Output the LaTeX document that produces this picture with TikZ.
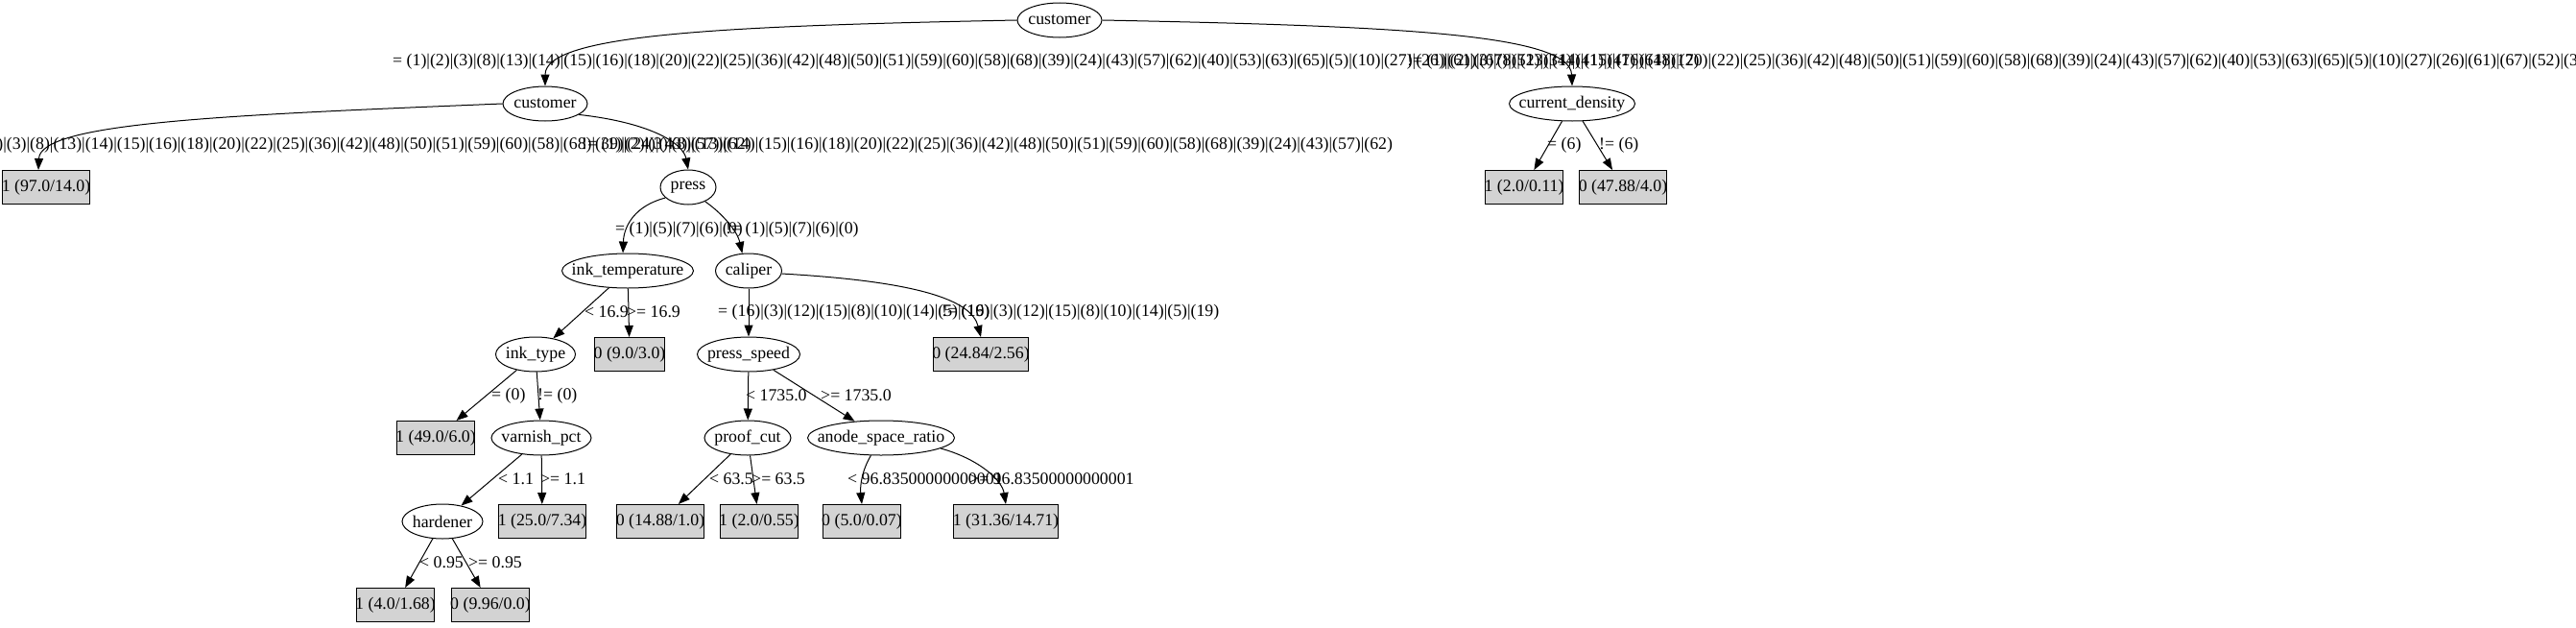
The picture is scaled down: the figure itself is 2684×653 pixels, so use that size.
\documentclass[tikz,border=0pt]{standalone}
\usepackage{fontspec}
\setmainfont{Liberation Serif}
\usepackage{xcolor}
\usepackage{tikz}
\usetikzlibrary{shapes.geometric,arrows.meta}

\definecolor{leafgray}{HTML}{D3D3D3}

\newcommand{\custsetA}{(1)|(2)|(3)|(8)|(13)|(14)|(15)|(16)|(18)|(20)|(22)|(25)|(36)|(42)|(48)|(50)|(51)|(59)|(60)|(58)|(68)|(39)|(24)|(43)|(57)|(62)|(40)|(53)|(63)|(65)|(5)|(10)|(27)|(26)|(61)|(67)|(52)|(34)|(41)|(47)|(64)|(17)}
\newcommand{\custsetB}{(1)|(2)|(3)|(8)|(13)|(14)|(15)|(16)|(18)|(20)|(22)|(25)|(36)|(42)|(48)|(50)|(51)|(59)|(60)|(58)|(68)|(39)|(24)|(43)|(57)|(62)}

\tikzset{
  attr/.style={ellipse, draw, line width=1pt, inner xsep=-60pt, inner ysep=0pt, minimum height=36pt, minimum width=#1},
  leaf/.style={rectangle, draw, line width=1pt, fill=leafgray, inner xsep=-1pt, inner ysep=0pt, minimum height=35pt},
  elabel/.style={inner sep=0pt, anchor=west},
  branch/.style={->, line width=1pt}
}

\begin{document}
\begin{tikzpicture}[x=1pt, y=-1pt, font=\fontsize{17.8}{21}\selectfont, >={Triangle[length=12pt,width=9pt]}]
    \useasboundingbox (0,0) rectangle (2684,653);

    \node[attr=88] (custroot) at (1104,21) {customer};
    \node[attr=88] (custsub) at (568,108) {customer};
    \node[attr=131] (curden) at (1638,108) {current\_density};
    \node[leaf] (leafA) at (48,195) {1 (97.0/14.0)};
    \node[attr=58] (press) at (717,195) {press};
    \node[leaf] (leafB) at (1588,195) {1 (2.0/0.11)};
    \node[leaf] (leafC) at (1691,195) {0 (47.88/4.0)};
    \node[attr=137] (inktemp) at (654,282) {ink\_temperature};
    \node[attr=69] (caliper) at (780,282) {caliper};
    \node[attr=83] (inktype) at (558,369) {ink\_type};
    \node[leaf] (leafD) at (656,369) {0 (9.0/3.0)};
    \node[attr=107] (pspeed) at (780,369) {press\_speed};
    \node[leaf] (leafE) at (1022,369) {0 (24.84/2.56)};
    \node[leaf] (leafF) at (454,456) {1 (49.0/6.0)};
    \node[attr=104] (varnish) at (564,456) {varnish\_pct};
    \node[attr=90] (proof) at (779,456) {proof\_cut};
    \node[attr=153] (anode) at (918,456) {anode\_space\_ratio};
    \node[attr=84] (hardener) at (461,543) {hardener};
    \node[leaf] (leafG) at (565,543) {1 (25.0/7.34)};
    \node[leaf] (leafH) at (688,543) {0 (14.88/1.0)};
    \node[leaf] (leafI) at (791,543) {1 (2.0/0.55)};
    \node[leaf] (leafJ) at (898,543) {0 (5.0/0.07)};
    \node[leaf] (leafK) at (1048,543) {1 (31.36/14.71)};
    \node[leaf] (leafL) at (412,630) {1 (4.0/1.68)};
    \node[leaf] (leafM) at (511,630) {0 (9.96/0.0)};

    \draw[branch] (custroot.west) .. controls (760,27) and (568,35) .. (custsub.north);
    \draw[branch] (custroot.east) .. controls (1450,27) and (1636,35) .. (curden.north);
    \draw[branch] (custsub.west) .. controls (230,120) and (42,128) .. ([xshift=-8pt]leafA.north);
    \draw[branch] (custsub.-18) .. controls (680,128) and (712,150) .. (press.north);
    \draw[branch] (curden) -- (leafB);
    \draw[branch] (curden) -- (leafC);
    \draw[branch] (press.205) .. controls (662,214) and (650,235) .. (inktemp.105);
    \draw[branch] (press.-40) .. controls (752,222) and (768,240) .. (caliper.110);
    \draw[branch] (inktemp) -- (inktype);
    \draw[branch] (inktemp) -- (leafD);
    \draw[branch] (caliper) -- (pspeed);
    \draw[branch] (caliper.-5) .. controls (955,293) and (1012,312) .. (leafE.north);
    \draw[branch] (inktype) -- (leafF);
    \draw[branch] (inktype) -- (varnish);
    \draw[branch] (pspeed) -- (proof);
    \draw[branch] (pspeed) -- (anode);
    \draw[branch] (varnish) -- (hardener);
    \draw[branch] (varnish) -- (leafG);
    \draw[branch] (proof) -- (leafH);
    \draw[branch] (proof) -- (leafI);
    \draw[branch] (anode.240) .. controls (898,490) and (896,506) .. (leafJ.north);
    \draw[branch] (anode.-10) .. controls (1020,478) and (1044,500) .. (leafK.north);
    \draw[branch] (hardener) -- (leafL);
    \draw[branch] (hardener) -- (leafM);

    % branch conditions
    \node[elabel] (lbroot1) at (409,64) {= \custsetA};
    \node[elabel] (lbroot2) at (1466,64) {!= \custsetA};
    \node[elabel, anchor=east] (lbsub1) at (783,151) {= \custsetB};
    \node[elabel] (lbsub2) at (606,151) {!= \custsetB};
    \node[elabel] (lbden1) at (1612,151) {= (6)};
    \node[elabel] (lbden2) at (1666,151) {!= (6)};
    \node[elabel] (lbpress1) at (641,239) {= (1)|(5)|(7)|(6)|(0)};
    \node[elabel] (lbpress2) at (756,239) {!= (1)|(5)|(7)|(6)|(0)};
    \node[elabel] (lbtemp1) at (609,325) {< 16.9};
    \node[elabel] (lbtemp2) at (653,325) {>= 16.9};
    \node[elabel] (lbcal1) at (748,325) {= (16)|(3)|(12)|(15)|(8)|(10)|(14)|(5)|(19)};
    \node[elabel] (lbcal2) at (981,325) {!= (16)|(3)|(12)|(15)|(8)|(10)|(14)|(5)|(19)};
    \node[elabel] (lbtype1) at (512,412) {= (0)};
    \node[elabel] (lbtype2) at (560,412) {!= (0)};
    \node[elabel] (lbspeed1) at (777,412) {< 1735.0};
    \node[elabel] (lbspeed2) at (855,412) {>= 1735.0};
    \node[elabel] (lbvarn1) at (519,499) {< 1.1};
    \node[elabel] (lbvarn2) at (563,499) {>= 1.1};
    \node[elabel] (lbproof1) at (739,499) {< 63.5};
    \node[elabel] (lbproof2) at (783,499) {>= 63.5};
    \node[elabel] (lbanode1) at (883,499) {< 96.83500000000001};
    \node[elabel] (lbanode2) at (1010,499) {>= 96.83500000000001};
    \node[elabel] (lbhard1) at (437,586) {< 0.95};
    \node[elabel] (lbhard2) at (488,586) {>= 0.95};
\end{tikzpicture}
\end{document}
